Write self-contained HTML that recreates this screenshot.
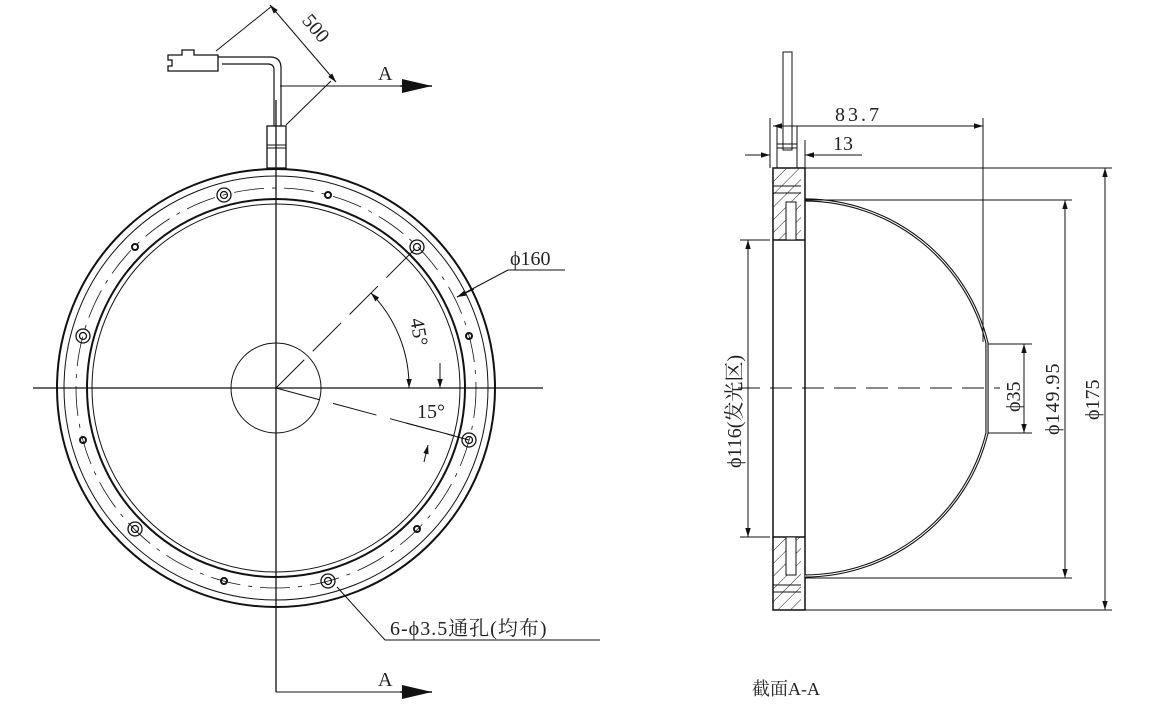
<!DOCTYPE html>
<html><head><meta charset="utf-8"><style>
html,body{margin:0;padding:0;background:#fff;}
svg{display:block;}
text{font-family:"Liberation Serif","Noto Serif CJK SC",serif;fill:#222;}
</style></head><body>
<svg width="1168" height="723" viewBox="0 0 1168 723" xmlns="http://www.w3.org/2000/svg">
<defs>
<marker id="ar" viewBox="0 0 10 10" refX="10" refY="5" markerWidth="9" markerHeight="9" orient="auto-start-reverse" markerUnits="userSpaceOnUse"><path d="M0,2 L10,5 L0,8 z" fill="#111"/></marker>
<marker id="big" viewBox="0 0 10 10" refX="10" refY="5" markerWidth="30" markerHeight="14" orient="auto" markerUnits="userSpaceOnUse" preserveAspectRatio="none"><path d="M0,0 L10,5 L0,10 z" fill="#111"/></marker>
<pattern id="hatch" width="9" height="9" patternUnits="userSpaceOnUse" patternTransform="rotate(45)"><line x1="0" y1="0" x2="0" y2="9" stroke="#222" stroke-width="1"/></pattern>
</defs>
<rect width="1168" height="723" fill="#fff"/>
<g stroke="#111" fill="none" stroke-width="1">
<circle cx="276" cy="388" r="219" stroke-width="2"/>
<circle cx="276" cy="388" r="212"/>
<circle cx="276" cy="388" r="189" stroke-width="2"/>
<circle cx="276" cy="388" r="184"/>
<circle cx="276" cy="388" r="200" stroke-dasharray="30,8,4,8" stroke-width="0.8"/>
<circle cx="276" cy="388" r="45"/>
<line x1="33" y1="388" x2="543" y2="388" stroke-width="1.3"/>
<line x1="276" y1="100" x2="276" y2="692" stroke-width="1.3"/>
<polyline points="276,692 400,692"/>
<polyline points="280,86 400,86"/>
<g stroke-width="1.3">
<circle cx="417" cy="247" r="7"/><circle cx="417" cy="247" r="3.5"/>
<circle cx="469" cy="440" r="7"/><circle cx="469" cy="440" r="3.5"/>
<circle cx="224" cy="195" r="7"/><circle cx="224" cy="195" r="3.5"/>
<circle cx="83" cy="336" r="7"/><circle cx="83" cy="336" r="3.5"/>
<circle cx="135" cy="529" r="7"/><circle cx="135" cy="529" r="3.5"/>
<circle cx="328" cy="581" r="7"/><circle cx="328" cy="581" r="3.5"/>
</g>
<g stroke-width="2">
<circle cx="328" cy="195" r="3"/><circle cx="135" cy="247" r="3"/><circle cx="83" cy="440" r="3"/>
<circle cx="224" cy="581" r="3"/><circle cx="417" cy="529" r="3"/><circle cx="469" cy="336" r="3"/>
</g>
<line x1="276" y1="388" x2="417" y2="247" stroke-dasharray="40,12"/>
<line x1="276" y1="388" x2="469" y2="440" stroke-dasharray="45,14"/>
<path d="M371,293 A134,134 0 0 1 409,388" marker-start="url(#ar)" marker-end="url(#ar)"/>
<line x1="440" y1="363" x2="440" y2="388" marker-end="url(#ar)"/>
<line x1="406" y1="423" x2="455" y2="436"/>
<line x1="428" y1="445" x2="424" y2="462" marker-start="url(#ar)"/>
<line x1="457" y1="297" x2="508" y2="270"/><line x1="508" y1="270" x2="565" y2="270"/>
<line x1="474" y1="289" x2="457" y2="297" marker-end="url(#ar)"/>
<line x1="337" y1="587" x2="385" y2="640"/><line x1="385" y1="640" x2="600" y2="640"/>
<rect x="267" y="126" width="19" height="42" stroke-width="1.3"/>
<line x1="267" y1="145" x2="286" y2="145"/><line x1="267" y1="148" x2="286" y2="148"/>
<path d="M274,126 V70 Q274,64 268,64 H222 M281,126 V68 Q281,57 270,57 H218" stroke-width="1.2"/>
<path d="M168,55 h14 v-5 h12 v5 h24 v16 h-24 v0 h-26 v-5 h4 v-6 h-4z" stroke-width="1.3"/>
<line x1="216" y1="51" x2="272" y2="6"/>
<line x1="331" y1="81" x2="286" y2="125"/>
<line x1="270" y1="5" x2="336" y2="82" marker-start="url(#ar)" marker-end="url(#ar)"/>
<line x1="400" y1="86" x2="432" y2="86" marker-end="url(#big)" stroke-width="1.5"/>
<line x1="400" y1="692" x2="432" y2="692" marker-end="url(#big)" stroke-width="1.5"/>
<!-- section -->
<rect x="783" y="52" width="9" height="98"/>
<rect x="777" y="126" width="20" height="42"/>
<line x1="777" y1="144" x2="797" y2="144"/><line x1="777" y1="148" x2="797" y2="148"/>
<rect x="773" y="168" width="32" height="442" stroke-width="1.5"/>
<rect x="773" y="168" width="28" height="72" fill="url(#hatch)" stroke="none"/>
<rect x="773" y="537" width="28" height="73" fill="url(#hatch)" stroke="none"/>
<line x1="773" y1="186" x2="801" y2="186"/><line x1="773" y1="193" x2="801" y2="193"/>
<line x1="773" y1="585" x2="801" y2="585"/><line x1="773" y1="592" x2="801" y2="592"/>
<line x1="773" y1="240" x2="805" y2="240" stroke-width="1.5"/><line x1="773" y1="537" x2="805" y2="537" stroke-width="1.5"/>
<rect x="786" y="202" width="10" height="38" fill="#fff"/><rect x="786" y="537" width="10" height="38" fill="#fff"/>
<path d="M805,200 A188,188 0 0 1 987,343 V433 A188,188 0 0 1 805,576" stroke-width="3.2"/>
<path d="M805,200 A188,188 0 0 1 987,343 V433 A188,188 0 0 1 805,576" stroke="#fff" stroke-width="1"/>
<line x1="805" y1="168" x2="1112" y2="168"/><line x1="805" y1="610" x2="1112" y2="610"/>
<line x1="805" y1="200" x2="1072" y2="200"/><line x1="805" y1="578" x2="1072" y2="578"/>
<line x1="988" y1="344" x2="1032" y2="344"/><line x1="988" y1="433" x2="1032" y2="433"/>
<line x1="738" y1="388" x2="1000" y2="388" stroke-dasharray="22,10"/>
<line x1="983" y1="118" x2="983" y2="342"/>
<line x1="773" y1="126" x2="983" y2="126" marker-start="url(#ar)" marker-end="url(#ar)"/>
<line x1="770" y1="118" x2="770" y2="168"/>
<line x1="805" y1="140" x2="805" y2="168"/>
<line x1="745" y1="155" x2="770" y2="155" marker-end="url(#ar)"/>
<line x1="862" y1="155" x2="805" y2="155" marker-end="url(#ar)"/>
<line x1="740" y1="240" x2="770" y2="240"/><line x1="740" y1="537" x2="770" y2="537"/>
<line x1="748" y1="240" x2="748" y2="537" marker-start="url(#ar)" marker-end="url(#ar)"/>
<line x1="1024" y1="344" x2="1024" y2="433" marker-start="url(#ar)" marker-end="url(#ar)"/>
<line x1="1065" y1="200" x2="1065" y2="578" marker-start="url(#ar)" marker-end="url(#ar)"/>
<line x1="1105" y1="168" x2="1105" y2="610" marker-start="url(#ar)" marker-end="url(#ar)"/>
</g>
<g font-size="20">
<text x="290" y="25" transform="rotate(50 300 35)">500</text>
<text x="378" y="80">A</text>
<text x="378" y="686">A</text>
<text x="510" y="265">ϕ160</text>
<text x="397" y="325" transform="rotate(80 407 330)">45°</text>
<text x="417" y="418">15°</text>
<text x="390" y="635" font-family="Liberation Serif,'Noto Sans CJK SC',sans-serif" letter-spacing="1">6-ϕ3.5通孔(均布)</text>
<text x="835" y="121" letter-spacing="3">83.7</text>
<text x="833" y="150">13</text>
<text x="752" y="695" font-family="'Noto Sans CJK SC',sans-serif" font-size="18">截面A-A</text>
<text transform="translate(741,468) rotate(-90)" font-family="Liberation Serif,'Noto Sans CJK SC',sans-serif">ϕ116(发光区)</text>
<text transform="translate(1020,412) rotate(-90)">ϕ35</text>
<text transform="translate(1059,435) rotate(-90)" letter-spacing="1">ϕ149.95</text>
<text transform="translate(1099,420) rotate(-90)">ϕ175</text>
</g>
</svg>
</body></html>
